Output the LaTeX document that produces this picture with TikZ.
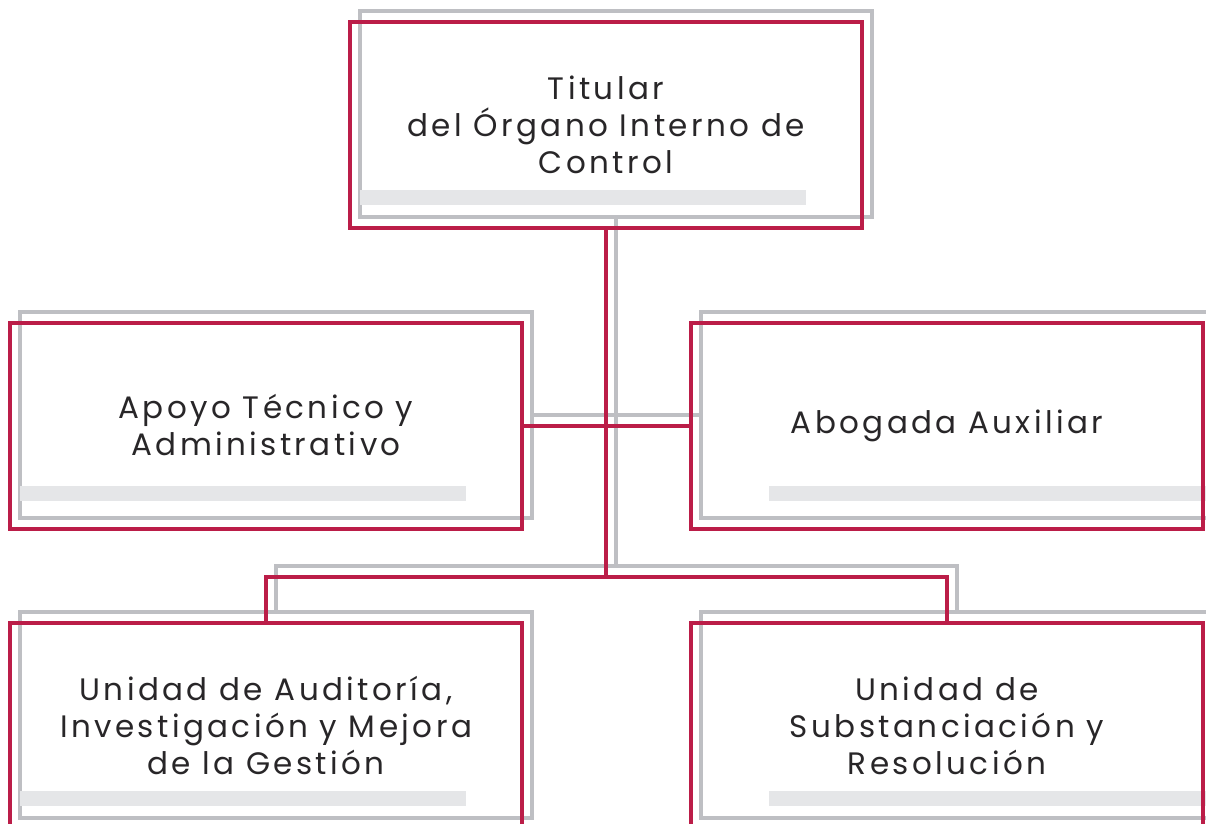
\documentclass[tikz,border=0pt]{standalone}
\usepackage{fontspec}
\setmainfont{Poppins}[LetterSpace=11]
\usepackage{tikz}
\usetikzlibrary{calc}
\usetikzlibrary{positioning}
\definecolor{oicred}{RGB}{187,29,72}
\definecolor{oicgrey}{RGB}{190,191,195}
\definecolor{oicbar}{RGB}{229,230,232}
\definecolor{oictext}{RGB}{40,38,40}

\begin{document}
\begin{tikzpicture}[x=0.5pt, y=-0.5pt,
        unit/.style={rectangle, draw=oicred, line width=2pt, minimum width=256pt, minimum height=103pt, align=center, text=oictext, font=\fontsize{15.5}{18.5}\selectfont},
        ghost/.style={rectangle, draw=oicgrey, line width=2pt, minimum width=256pt, minimum height=103pt},
        link/.style={draw=oicred, line width=2pt},
        glink/.style={draw=oicgrey, line width=2pt}]
            \useasboundingbox (0,0) rectangle (1206,824);
            % grey copies behind the boxes
            \foreach \n/\x/\y in {titular/606/125, apoyo/266/425.5, abogada/947/425.5, auditoria/266/726, substanciacion/947/726}
            {
                \node[ghost] (\n-g) at ($(\x,\y) + (10,-11)$) {};
            }
            \foreach \n/\lift in {titular/0, apoyo/5, auditoria/0}
            {
                \fill[oicbar] ($(\n-g.south west) + (2,-14-\lift)$) rectangle ($(\n-g.south west) + (448,-29-\lift)$);
            }
            \foreach \n/\lift in {abogada/5, substanciacion/0}
            {
                \fill[oicbar] ($(\n-g.south east) + (-446,-14-\lift)$) rectangle ($(\n-g.south east) + (-2,-29-\lift)$);
            }
            \coordinate (fork-g) at (616,566);
            \draw[glink] (titular-g.south) -- (fork-g);
            \draw[glink] (apoyo-g.east) -- (abogada-g.west);
            \draw[glink] (auditoria-g.north) |- (fork-g) -| (substanciacion-g.north);

            % boxes
            \node[unit] (titular) at (606,125) {Titular\\del Órgano Interno de\\Control};
            \node[unit] (apoyo) at (266,425.5) {Apoyo Técnico y\\Administrativo};
            \node[unit] (abogada) at (947,425.5) {Abogada Auxiliar};
            \node[unit] (auditoria) at (266,726) {Unidad de Auditoría,\\Investigación y Mejora\\de la Gestión};
            \node[unit] (substanciacion) at (947,726) {Unidad de\\Substanciación y\\Resolución};

            \coordinate (fork) at (606,577);
            \draw[link] (titular.south) -- (fork);
            \draw[link] (apoyo.east) -- (abogada.west);
            \draw[link] (auditoria.north) |- (fork) -| (substanciacion.north);
        \end{tikzpicture}
\end{document}
